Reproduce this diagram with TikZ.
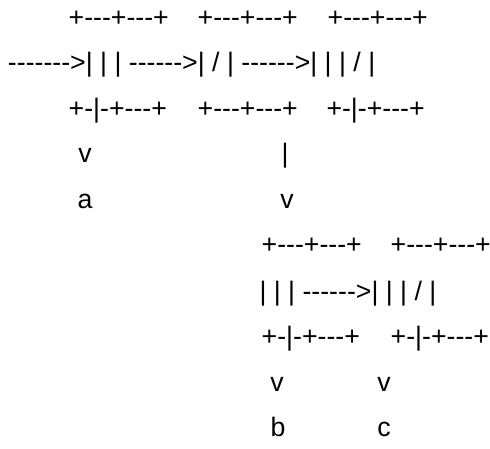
\documentclass[tikz,border=0pt]{standalone}
\usepackage{fontspec}
\setmainfont{Liberation Sans}[Ligatures=TeXOff]
\tikzset{
  asc/.style={inner sep=0pt, outer sep=0pt, anchor=base west, font=\fontsize{26.7}{30}\selectfont},
  ascc/.style={asc, anchor=base}
}
\begin{document}
\begin{tikzpicture}[x=1pt,y=-1pt]
\useasboundingbox (0,0) rectangle (490,449);
% row 1
\node[asc] (r1a) at (68.7,26.3) {+---+---+};
\node[asc] (r1b) at (197.7,26.3) {+---+---+};
\node[asc] (r1c) at (327.7,26.3) {+---+---+};
% row 2
\node[asc] (r2) at (8,72) {------->| | | ------>| / | ------>| | | / |};
% row 3
\node[asc] (r3a) at (68.7,117.5) {+-|-+---+};
\node[asc] (r3b) at (197.7,117.5) {+---+---+};
\node[asc] (r3c) at (326.5,117.5) {+-|-+---+};
% row 4
\node[ascc] (r4a) at (85,163) {v};
\node[ascc] (r4b) at (285,163) {|};
% row 5
\node[ascc] (r5a) at (85,208.7) {a};
\node[ascc] (r5b) at (287,208.7) {v};
% row 6
\node[asc] (r6a) at (261.7,254) {+---+---+};
\node[asc] (r6b) at (390.7,254) {+---+---+};
% row 7
\node[asc] (r7) at (259.5,300) {| | | ------>| | | / |};
% row 8
\node[asc] (r8a) at (261.7,345.5) {+-|-+---+};
\node[asc] (r8b) at (390.7,345.5) {+-|-+---+};
% row 9
\node[ascc] (r9a) at (277,391) {v};
\node[ascc] (r9b) at (384,391) {v};
% row 10
\node[ascc] (r10a) at (278,436.7) {b};
\node[ascc] (r10b) at (384,436.7) {c};
\end{tikzpicture}
\end{document}
